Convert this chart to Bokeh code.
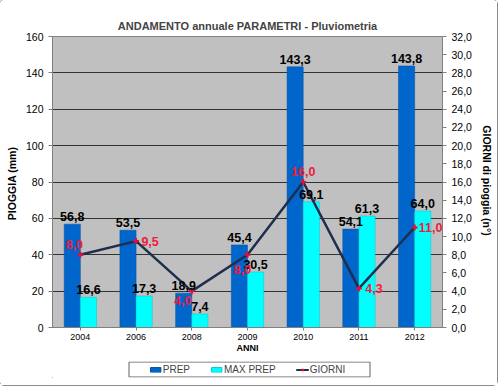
from bokeh.plotting import figure
from bokeh.layouts import column
from bokeh.models import (ColumnDataSource, Range1d, LinearAxis, SingleIntervalTicker,
                          CustomJSTickFormatter, Legend, LegendItem, FactorRange)
from bokeh.transform import dodge
from bokeh.core.properties import value
from bokeh.embed import file_html
from bokeh.resources import INLINE

# ---- data ----
years = ["2004", "2006", "2008", "2009", "2010", "2011", "2012"]
prep = [56.8, 53.5, 18.9, 45.4, 143.3, 54.1, 143.8]
max_prep = [16.6, 17.3, 7.4, 30.5, 69.1, 61.3, 64.0]
giorni = [8.0, 9.5, 4.0, 8.0, 16.0, 4.3, 11.0]
series_names = ["PREP", "MAX PREP", "GIORNI"]

# label offsets (screen px, +up) for GIORNI value labels
g_dx = [-6, 14, -9, -5, 0, 15, 16]
g_dy = [10, 0, -9, -15, 11, 0, 0]

FONT = "Liberation Sans"
C_PREP, C_MAX, C_LINE, C_MARK = "#0066cc", "#00ffff", "#1f2d4f", "#e0103a"
fmt = lambda v: f"{v:.1f}".replace(".", ",")

src = ColumnDataSource(dict(
    years=years, prep=prep, max_prep=max_prep, giorni=giorni,
    prep_lbl=[fmt(v) for v in prep], max_lbl=[fmt(v) for v in max_prep],
    g_lbl=[fmt(v) for v in giorni], g_dx=g_dx, g_dy=[-d for d in g_dy],
))

p = figure(x_range=FactorRange(*years, range_padding=0), y_range=Range1d(0, 160),
           frame_width=390, frame_height=291,
           output_backend="svg", toolbar_location=None,
           min_border_left=52, min_border_right=55, min_border_top=36, min_border_bottom=32,
           background_fill_color="#c0c0c0", border_fill_color="white")

p.title.text = "ANDAMENTO annuale PARAMETRI - Pluviometria"
p.title.align = "center"
p.title.text_font = FONT
p.title.text_font_size = "11px"
p.title.text_font_style = "bold"
p.title.offset = 0
p.title.standoff = 9

p.extra_y_ranges = {"g": Range1d(0, 32)}

p.vbar(x=dodge("years", -0.145, range=p.x_range), top="prep", width=0.29, source=src,
       fill_color=C_PREP, line_color="#0050a0", line_width=0.5)
p.vbar(x=dodge("years", 0.145, range=p.x_range), top="max_prep", width=0.29, source=src,
       fill_color=C_MAX, line_color="#00c8c8", line_width=0.5)
p.line(x="years", y="giorni", y_range_name="g", source=src, line_color=C_LINE, line_width=2.5)
p.scatter(x="years", y="giorni", y_range_name="g", source=src, marker="cross", size=6,
          line_color=C_MARK, line_width=2)

p.text(x=dodge("years", -0.145, range=p.x_range), y="prep", text="prep_lbl", source=src,
       text_align="center", text_baseline="bottom", y_offset=-3,
       text_font=value(FONT), text_font_size="12.5px", text_font_style="bold", text_color="black")
p.text(x=dodge("years", 0.145, range=p.x_range), y="max_prep", text="max_lbl", source=src,
       text_align="center", text_baseline="bottom", y_offset=-3,
       text_font=value(FONT), text_font_size="12.5px", text_font_style="bold", text_color="black")
p.text(x="years", y="giorni", y_range_name="g", text="g_lbl", source=src,
       x_offset="g_dx", y_offset="g_dy",
       text_align="center", text_baseline="middle",
       text_font=value(FONT), text_font_size="12.5px", text_font_style="bold", text_color="#ee1c3a")

# axes
yl = p.yaxis[0]
yl.ticker = SingleIntervalTicker(interval=20)
yl.axis_label = "PIOGGIA  (mm)"
yl.axis_label_text_font = FONT
yl.axis_label_text_font_size = "10.5px"
yl.axis_label_text_font_style = "bold"

yr = LinearAxis(y_range_name="g", ticker=SingleIntervalTicker(interval=2),
                formatter=CustomJSTickFormatter(code="return tick.toFixed(1).replace('.', ',');"),
                axis_label="GIORNI di pioggia  (n°)")
p.add_layout(yr, "right")
yr.axis_label_text_font = FONT
yr.axis_label_text_font_size = "10.5px"
yr.axis_label_text_font_style = "bold"
yr.axis_label_standoff = 6

xa = p.xaxis[0]
xa.axis_label = "ANNI"
xa.axis_label_text_font = FONT
xa.axis_label_text_font_size = "9px"
xa.axis_label_text_font_style = "bold"
xa.axis_label_standoff = 0
xa.major_label_standoff = 3

for ax in [yl, yr, xa]:
    ax.major_label_text_font = FONT
    ax.major_label_text_font_size = "10.5px"
    ax.major_label_text_color = "black"
    ax.axis_line_color = "#808080"
    ax.major_tick_line_color = "#808080"
    ax.minor_tick_line_color = None
    ax.major_tick_out = 4
    ax.major_tick_in = 0
    ax.axis_label_text_color = "black"
xa.major_label_text_font_size = "9px"
xa.major_tick_out = 3
yr.axis_line_color = None

p.xgrid.grid_line_color = None
p.ygrid.ticker = SingleIntervalTicker(interval=20)
p.ygrid.grid_line_color = "#333333"
p.ygrid.grid_line_width = 1
p.outline_line_color = "#808080"

# ---- legend strip (separate small figure below the chart, frame aligned with chart) ----
lg = figure(frame_width=390, frame_height=16, x_range=Range1d(53, 443), y_range=Range1d(0, 16),
            output_backend="svg", toolbar_location=None,
            min_border_left=52, min_border_right=55, min_border_top=2, min_border_bottom=8,
            background_fill_color="white", border_fill_color="white")
lg.axis.visible = False
lg.grid.visible = False
lg.outline_line_color = None
lg.quad(left=[129.5], right=[370.5], bottom=[0.5], top=[15.5],
        fill_color="white", line_color="#606060", line_width=1)
# legend proxies: placed off the visible range so only their legend glyphs show
r1 = lg.vbar(x=[0], top=[-5], width=1, fill_color=C_PREP, line_color="#0050a0")
r2 = lg.vbar(x=[0], top=[-5], width=1, fill_color=C_MAX, line_color="#00c8c8")
r3 = lg.line(x=[0, 1], y=[-5, -5], line_color=C_LINE, line_width=2)
r4 = lg.scatter(x=[0], y=[-5], marker="cross", size=5, line_color=C_MARK, line_width=2)

legend = Legend(items=[LegendItem(label=series_names[0], renderers=[r1]),
                       LegendItem(label=series_names[1], renderers=[r2]),
                       LegendItem(label=series_names[2], renderers=[r3, r4])],
                orientation="horizontal", location="center",
                label_text_font=FONT, label_text_font_size="10px",
                glyph_width=13, glyph_height=6, spacing=20, padding=3, margin=0,
                label_standoff=1, border_line_color=None,
                label_height=10, background_fill_alpha=0)
lg.add_layout(legend)

lay = column(p, lg, spacing=0)
lay.styles = {"outline": "1px solid #8c8c8c", "border-radius": "4px"}

open("out.html", "w").write(file_html(lay, INLINE))
